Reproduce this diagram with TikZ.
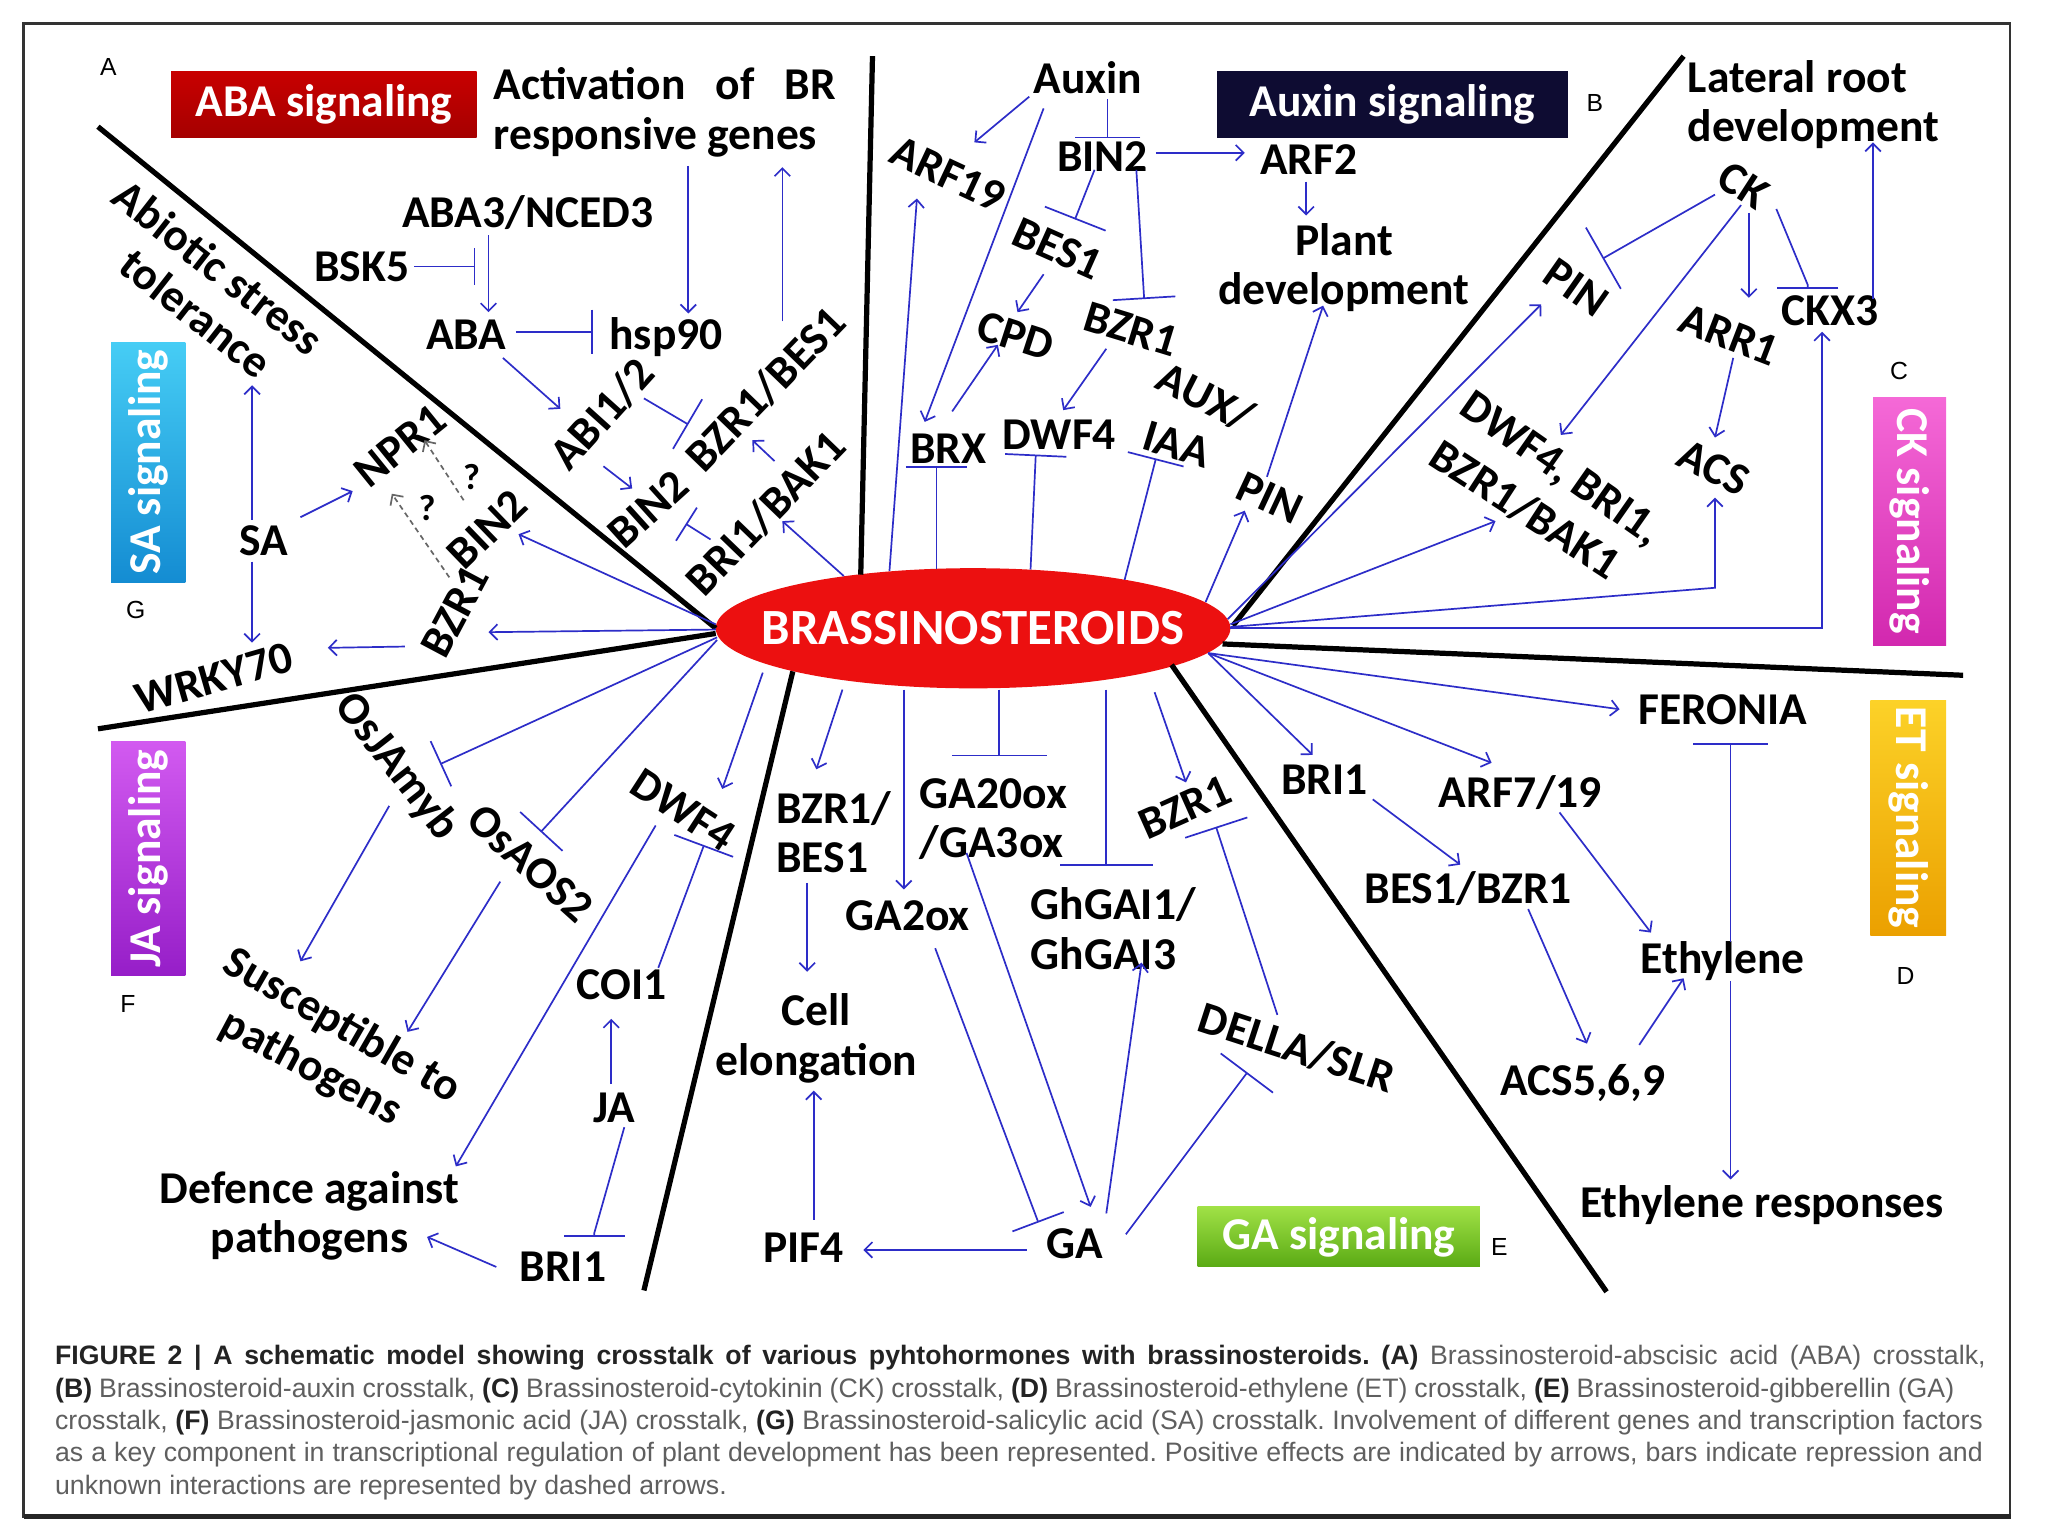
\documentclass[tikz,border=0pt]{standalone}
\usepackage{fontspec}
\setmainfont{Carlito}
\newfontfamily\capfont{Liberation Sans}
\usetikzlibrary{arrows.meta,shapes.geometric,calc}
\definecolor{ablue}{RGB}{45,45,200}
\definecolor{brred}{RGB}{236,16,16}
\definecolor{capgray}{RGB}{95,95,95}
\definecolor{capdark}{RGB}{35,35,35}
\newcommand\LblFont{\fontsize{35}{38}\selectfont\bfseries}
\frenchspacing
\begin{document}
\begin{tikzpicture}[x=1bp,y=-1bp,
  lbl/.style={font=\LblFont, inner sep=1bp, text height=23bp, text depth=0bp},
  lblm/.style={font=\LblFont, inner sep=1bp, align=center},
  qlbl/.style={font=\fontsize{28}{30}\selectfont\bfseries, inner sep=1bp},
  act/.style={draw=ablue, line width=1.3bp, -{Straight Barb[length=6bp,width=12bp]}},
  inh/.style={draw=ablue, line width=1.3bp, -{Bar[width=#1]}},
  inh/.default=34bp,
  dsh/.style={draw=black!60, line width=1.3bp, dash pattern=on 4bp off 3bp, -{Straight Barb[length=6bp,width=12bp]}},
  divider/.style={line width=4bp, draw=black},
  sigbox/.style={font=\fontsize{35}{38}\selectfont\bfseries, text=white, inner sep=0},
  panel/.style={font=\capfont\fontsize{19}{20}\selectfont, inner sep=0}
]
\useasboundingbox (0,0) rectangle (1568,1176);
\fill[white] (0,0) rectangle (1568,1176);
\draw[line width=2bp, black!80] (18,18) rectangle (1539,1161);
\draw[line width=4bp, black!85] (18,1161) -- (1540,1161);

% central node
\node[ellipse, fill=brred, minimum width=394bp, minimum height=92bp, inner sep=0] (br) at (745,481) {};
\node[text=white, font=\fontsize{39}{40}\selectfont\bfseries, inner sep=0] (brlabel) at (br.center) {BRASSINOSTEROIDS};

% dividers
\draw[divider] (75,97) -- ($(br)+(-197,0)$);
\draw[divider] (75,558) -- ($(br)+(-197,4)$);
\draw[divider] (668,43) -- ($(br)+(-86,-41)$);
\draw[divider] (493,988) -- ($(br)+(-138,33)$);
\draw[divider] (1289,43) -- ($(br)+(199,-2)$);
\draw[divider] (1503,517) -- ($(br)+(191,12)$);
\draw[divider] (1230,989) -- ($(br)+(152,28)$);

% signaling boxes
\node[sigbox, minimum width=234bp, minimum height=51bp, top color={rgb,255:red,200;green,0;blue,0}, middle color={rgb,255:red,236;green,30;blue,30}, bottom color={rgb,255:red,165;green,0;blue,0}] (abasig) at (248,80) {ABA signaling};
\node[sigbox, minimum width=269bp, minimum height=51bp, fill={rgb,255:red,14;green,12;blue,50}] (auxsig) at (1066,80) {Auxin signaling};
\node[sigbox, minimum width=216bp, minimum height=46bp, top color={rgb,255:red,160;green,225;blue,70}, bottom color={rgb,255:red,90;green,170;blue,20}] (gasig) at (1025,947) {GA signaling};
\node[sigbox, rotate=90, minimum width=184bp, minimum height=57bp, top color={rgb,255:red,70;green,205;blue,245}, bottom color={rgb,255:red,20;green,140;blue,210}] (sasig) at (113.5,354) {SA signaling};
\node[sigbox, rotate=90, minimum width=179bp, minimum height=57bp, top color={rgb,255:red,210;green,90;blue,240}, bottom color={rgb,255:red,150;green,30;blue,200}] (jasig) at (113.5,657.5) {JA signaling};
\node[sigbox, rotate=-90, minimum width=190bp, minimum height=56bp, top color={rgb,255:red,245;green,105;blue,215}, bottom color={rgb,255:red,210;green,40;blue,175}] (cksig) at (1462,399) {CK signaling};
\node[sigbox, rotate=-90, minimum width=180bp, minimum height=58bp, top color={rgb,255:red,252;green,210;blue,40}, bottom color={rgb,255:red,235;green,160;blue,0}] (etsig) at (1461,626) {ET signaling};

% panel letters
\node[panel] (pA) at (83,51) {A};
\node[panel] (pB) at (1221,79) {B};
\node[panel] (pC) at (1454,284) {C};
\node[panel] (pD) at (1459,747) {D};
\node[panel] (pE) at (1148,955) {E};
\node[panel] (pF) at (98,769) {F};
\node[panel] (pG) at (104,467) {G};

% ---------- A: ABA ----------
\node[lbl] (aba3) at (404,163) {ABA3/NCED3};
\node[lbl] (bsk5) at (277,204) {BSK5};
\node[lbl] (aba) at (357,256) {ABA};
\node[lbl] (hsp) at (510,256) {hsp90};
\node[lblm, align=left] (act) at (509,86) {\makebox[262bp][s]{Activation of BR}\\responsive genes};
\node[lbl, rotate=48] (abi) at (461,317) {ABI1/2};
\node[lbl, rotate=46] (bzrbes) at (586,298) {BZR1/BES1};
\node[lbl, rotate=42] (bin2a) at (496,390) {BIN2};
\node[lbl, rotate=46] (bribak) at (586,393) {BRI1/BAK1};

\draw[act] ($(aba3)+(-30,17)$) -- ($(aba)+(17,-17)$);
\draw[inh=28bp] ($(bsk5)+(40,0)$) -- ($(bsk5)+(87,0)$);
\draw[inh] ($(aba)+(38,-2)$) -- ($(hsp)+(-56,-2)$);
\draw[act] ($(act)+(18,41)$) -- ($(hsp)+(17,-16)$);
\draw[act] ($(bzrbes)+(13,-52)$) -- ($(act)+(90,42)$);
\draw[act] ($(aba)+(28,18)$) -- ($(abi)+(-32,-4)$);
\draw[inh=44bp] ($(abi)+(32,-12)$) -- ($(bzrbes)+(-59,27)$);
\draw[act] ($(abi)+(1,40)$) -- ($(bin2a)+(-12,-16)$);
\draw[inh=30bp] ($(bribak)+(-42,20)$) -- ($(bin2a)+(29,11)$);
\draw[act] ($(bribak)+(7,-40)$) -- ($(bzrbes)+(-10,39)$);
\draw[act] ($(br)+(-99,-40)$) -- ($(bribak)+(13,6)$);

% ---------- G: SA ----------
\node[lbl, rotate=-38] (abio1) at (167,205) {Abiotic stress};
\node[lbl, rotate=-38] (abio2) at (150,240) {tolerance};
\node[lbl, rotate=39] (npr1) at (306,341) {NPR1};
\node[lbl, rotate=44] (bin2g) at (373,405) {BIN2};
\node[lbl, rotate=62] (bzr1g) at (348,468) {BZR1};
\node[lbl] (sa) at (202,414) {SA};
\node[lbl, rotate=16] (wrky) at (164,519) {WRKY70};
\node[qlbl] (q1) at (361,365) {?};
\node[qlbl] (q2) at (327,389) {?};

\draw[act] ($(sa)+(-9,-16)$) -- ($(abio2)+(43,55)$);
\draw[act] ($(sa)+(-9,16)$) -- ($(wrky)+(29,-27)$);
\draw[act] ($(sa)+(28,-18)$) -- ($(npr1)+(-36,35)$);
\draw[act] ($(br)+(-197,-3)$) -- ($(bin2g)+(24,4)$);
\draw[act] ($(br)+(-197,1)$) -- ($(bzr1g)+(26,16)$);
\draw[act] ($(bzr1g)+(-38,27)$) -- ($(wrky)+(87,-23)$);
\draw[dsh] ($(bin2g)+(-18,-22)$) -- ($(npr1)+(19,-4)$);
\draw[dsh] ($(bzr1g)+(-4,-26)$) -- ($(npr1)+(-6,37)$);

% ---------- B: Auxin ----------
\node[lbl] (auxin) at (833,60) {Auxin};
\node[lbl, rotate=-25] (arf19) at (726,133) {ARF19};
\node[lbl] (bin2b) at (844,120) {BIN2};
\node[lbl] (arf2) at (1002,122) {ARF2};
\node[lblm] (plant) at (1029,205) {Plant\\development};
\node[lbl, rotate=-24] (bes1b) at (810,190) {BES1};
\node[lbl, rotate=-17] (bzr1b) at (866,252) {BZR1};
\node[lbl, rotate=-18] (cpd) at (778,257) {CPD};
\node[lbl] (brx) at (726,343) {BRX};
\node[lbl] (dwf4b) at (811,333) {DWF4};
\node[lbl, rotate=-27] (aux) at (923,304) {AUX/};
\node[lbl, rotate=-17] (iaa) at (901,340) {IAA};
\node[lbl, rotate=-25] (pinb) at (972,381) {PIN};

\draw[act] ($(auxin)+(-45,14)$) -- ($(arf19)+(20,-24)$);
\draw[inh=50bp] ($(auxin)+(15,16)$) -- ($(bin2b)+(4,-14)$);
\draw[act] ($(bin2b)+(41,-3)$) -- ($(arf2)+(-49,-5)$);
\draw[act] ($(arf2)+(-2,17)$) -- ($(plant)+(-29,-40)$);
\draw[act] ($(auxin)+(-34,23)$) -- ($(brx)+(-18,-20)$);
\draw[act] ($(br)+(-64,-44)$) -- ($(arf19)+(-24,19)$);
\draw[inh=50bp] ($(bin2b)+(-6,10)$) -- ($(bes1b)+(13,-22)$);
\draw[inh=48bp] ($(bin2b)+(26,10)$) -- ($(bzr1b)+(10,-23)$);
\draw[act] ($(bes1b)+(-11,20)$) -- ($(cpd)+(1,-18)$);
\draw[act] ($(brx)+(3,-28)$) -- ($(cpd)+(-14,7)$);
\draw[act] ($(bzr1b)+(-19,15)$) -- ($(dwf4b)+(3,-19)$);
\draw[inh=47bp] ($(br)+(-28,-45)$) -- ($(brx)+(-9,14)$);
\draw[inh=47bp] ($(br)+(44,-45)$) -- ($(dwf4b)+(-18,15)$);
\draw[inh=44bp] ($(br)+(116,-37)$) -- ($(iaa)+(-16,11)$);
\draw[act] ($(br)+(178,-20)$) -- ($(pinb)+(-19,10)$);
\draw[act] ($(pinb)+(-2,-16)$) -- ($(plant)+(-16,29)$);

% ---------- C: CK ----------
\node[lblm, align=left, anchor=west] (lat) at (1291,80) {Lateral root\\development};
\node[lbl, rotate=-33] (ck) at (1335,142) {CK};
\node[lbl, rotate=-35] (pinc) at (1207,220) {PIN};
\node[lbl, rotate=-21] (arr1) at (1324,256) {ARR1};
\node[lbl] (ckx3) at (1401,238) {CKX3};
\node[lbl, rotate=-35] (dwfc1) at (1196,358) {DWF4, BRI1,};
\node[lbl, rotate=-33] (dwfc2) at (1168,390) {BZR1/BAK1};
\node[lbl, rotate=-27] (acs) at (1312,358) {ACS};

\draw[inh=54bp] ($(ck)+(-22,7)$) -- ($(pinc)+(20,-22)$);
\draw[act] ($(ck)+(4,21)$) -- ($(arr1)+(15,-28)$);
\draw[inh=47bp] ($(ck)+(25,18)$) -- ($(ckx3)+(-17,-20)$) -- ++(0,3);
\draw[act] ($(ckx3)+(33,-9)$) -- ($(lat.west)+(143,29)$);
\draw[act] ($(ck)+(-2,15)$) -- ($(dwfc1)+(-1,-25)$);
\draw[act] ($(arr1)+(3,18)$) -- ($(acs)+(1,-23)$);
\draw[act] ($(br)+(195,-7)$) -- ($(pinc)+(-27,13)$);
\draw[act] ($(br)+(197,-3)$) -- ($(dwfc2)+(-23,9)$);
\draw[act] ($(br)+(197,-1)$) -- ($(acs)+(1,92)$) -- ($(acs)+(1,23)$);
\draw[act] ($(br)+(197,0)$) -- ($(ckx3)+(-6,243)$) -- ($(ckx3)+(-6,16)$);

% ---------- D: ET ----------
\node[lbl] (fer) at (1319,543) {FERONIA};
\node[lbl] (bri1d) at (1014,597) {BRI1};
\node[lbl] (arf719) at (1164,607) {ARF7/19};
\node[lbl] (besbzr) at (1124,680) {BES1/BZR1};
\node[lbl] (acs569) at (1212,827) {ACS5,6,9};
\node[lbl] (eth) at (1319,734) {Ethylene};
\node[lbl] (ethr) at (1349,921) {Ethylene responses};

\draw[act] ($(br)+(180,19)$) -- ($(fer)+(-79,0)$);
\draw[act] ($(br)+(180,19)$) -- ($(bri1d)+(-9,-19)$);
\draw[act] ($(br)+(180,19)$) -- ($(arf719)+(-22,-23)$);
\draw[act] ($(bri1d)+(37,15)$) -- ($(besbzr)+(-6,-18)$);
\draw[act] ($(arf719)+(30,15)$) -- ($(eth)+(-55,-20)$);
\draw[act] ($(besbzr)+(46,16)$) -- ($(acs569)+(3,-28)$);
\draw[act] ($(acs569)+(43,-27)$) -- ($(eth)+(-30,15)$);
\draw[inh=57bp] ($(eth)+(6,-13)$) -- ($(fer)+(6,26)$);
\draw[act] ($(eth)+(6,17)$) -- ($(ethr)+(-24,-18)$);

% ---------- E: GA ----------
\node[lblm, align=left, anchor=west] (bzrbese) at (593,637) {BZR1/\\BES1};
\node[lblm] (cell) at (625,795) {Cell\\elongation};
\node[lbl] (pif4) at (615,955) {PIF4};
\node[lbl] (ga) at (823,952) {GA};
\node[lbl] (ga2ox) at (695,701) {GA2ox};
\node[lblm, align=left, anchor=west] (ga20) at (703,627) {GA20ox\\/GA3ox};
\node[lblm, align=left, anchor=west] (ghgai) at (788,711) {GhGAI1/\\GhGAI3};
\node[lbl, rotate=24] (bzr1e) at (907,618) {BZR1};
\node[lbl, rotate=-18] (della) at (993,802) {DELLA/SLR};

\draw[act] ($(br)+(-100,47)$) -- ($(bzrbese.west)+(32,-48)$);
\draw[act] ($(bzrbese.west)+(25,39)$) -- ($(cell)+(-7,-51)$);
\draw[act] ($(pif4)+(8,-21)$) -- ($(cell)+(-2,40)$);
\draw[act] ($(ga)+(-37,5)$) -- ($(pif4)+(46,2)$);
\draw[act] ($(br)+(-53,47)$) -- ($(ga2ox)+(-3,-20)$);
\draw[inh=73bp] ($(br)+(20,47)$) -- ($(ga20.west)+(62,-48)$);
\draw[act] ($(ga20.west)+(37,26)$) -- ($(ga)+(12,-28)$);
\draw[inh=42bp] ($(ga2ox)+(21,25)$) -- ($(ga)+(-28,-16)$);
\draw[inh=71bp] ($(br)+(102,47)$) -- ($(ghgai.west)+(59,-48)$);
\draw[act] ($(ga)+(24,-23)$) -- ($(ghgai.west)+(86,26)$);
\draw[act] ($(br)+(139,49)$) -- ($(bzr1e)+(1,-19)$);
\draw[inh=50bp] ($(della)+(-15,-25)$) -- ($(bzr1e)+(24,15)$);
\draw[inh=50bp] ($(ga)+(39,-7)$) -- ($(della)+(-38,19)$);

% ---------- F: JA ----------
\node[lbl, rotate=-52] (osj) at (305,586) {OsJAmyb};
\node[lbl, rotate=-42] (osaos) at (406,661) {OsAOS2};
\node[lbl, rotate=-33] (dwf4f) at (523,620) {DWF4};
\node[lbl, rotate=-30] (susc1) at (263,784) {Susceptible to};
\node[lbl, rotate=-28] (susc2) at (239,816) {pathogens};
\node[lbl] (coi1) at (476,754) {COI1};
\node[lbl] (ja) at (470,848) {JA};
\node[lbl] (bri1f) at (431,970) {BRI1};
\node[lblm] (def) at (237,931) {Defence against\\pathogens};

\draw[inh=38bp] ($(br)+(-196,7)$) -- ($(osj)+(32,-1)$);
\draw[inh=44bp] ($(br)+(-196,9)$) -- ($(osaos)+(8,-24)$);
\draw[act] ($(osj)+(-7,31)$) -- ($(susc1)+(-33,-48)$);
\draw[act] ($(osaos)+(-23,14)$) -- ($(susc1)+(49,6)$);
\draw[act] ($(br)+(-161,34)$) -- ($(dwf4f)+(30,-16)$);
\draw[act] ($(dwf4f)+(-21,12)$) -- ($(def)+(112,-38)$);
\draw[inh=48bp] ($(coi1)+(28,-13)$) -- ($(dwf4f)+(16,27)$);
\draw[act] ($(ja)+(-2,-18)$) -- ($(coi1)+(-8,26)$);
\draw[inh=47bp] ($(ja)+(8,15)$) -- ($(bri1f)+(24,-26)$) -- ++(0,3);
\draw[act] ($(bri1f)+(-51,0)$) -- ($(def)+(90,16)$);

% ---------- caption ----------
\node[anchor=north west, inner sep=0, align=left, font=\capfont\fontsize{20.5}{24.8}\selectfont, text=capgray] (cap) at (42,1030) {%
\makebox[1478bp][s]{{\bfseries\color{capdark}FIGURE 2 | A schematic model showing crosstalk of various pyhtohormones with brassinosteroids. (A)} Brassinosteroid-abscisic acid (ABA) crosstalk,}\\
\makebox[1454bp][s]{{\bfseries\color{capdark}(B)} Brassinosteroid-auxin crosstalk, {\bfseries\color{capdark}(C)} Brassinosteroid-cytokinin (CK) crosstalk, {\bfseries\color{capdark}(D)} Brassinosteroid-ethylene (ET) crosstalk, {\bfseries\color{capdark}(E)} Brassinosteroid-gibberellin (GA)}\\
\makebox[1476bp][s]{crosstalk, {\bfseries\color{capdark}(F)} Brassinosteroid-jasmonic acid (JA) crosstalk, {\bfseries\color{capdark}(G)} Brassinosteroid-salicylic acid (SA) crosstalk. Involvement of different genes and transcription factors}\\
\makebox[1476bp][s]{as a key component in transcriptional regulation of plant development has been represented. Positive effects are indicated by arrows, bars indicate repression and}\\
unknown interactions are represented by dashed arrows.};
\end{tikzpicture}
\end{document}
